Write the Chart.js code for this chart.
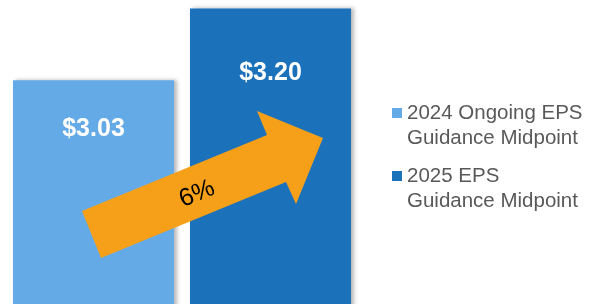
<!DOCTYPE html>
<html>
<head>
<meta charset="utf-8">
<script src="https://cdn.jsdelivr.net/npm/chart.js@4/dist/chart.umd.min.js"></script>
<style>
  html, body { margin: 0; padding: 0; background: #ffffff; }
  #wrap { width: 592px; height: 304px; position: relative; }
</style>
</head>
<body>
<div id="wrap"><canvas id="barChart"></canvas></div>
<script>
var categories = ["2024 Ongoing EPS Guidance Midpoint", "2025 EPS Guidance Midpoint"];
var legendLines = [["2024 Ongoing EPS", "Guidance Midpoint"], ["2025 EPS", "Guidance Midpoint"]];
var epsValues = [3.03, 3.20];
var valueLabels = ["$3.03", "$3.20"];
var growthLabel = "6%";
var barColors = ["#64aae6", "#1c71bb"];

// shadow on the right edge of the bars
var barShadow = {
  id: "barShadow",
  beforeDatasetsDraw: function (chart) {
    var ctx = chart.ctx;
    ctx.save();
    ctx.shadowColor = "rgba(0,0,0,0.28)";
    ctx.shadowOffsetX = 3;
    ctx.shadowOffsetY = 0;
    ctx.shadowBlur = 4;
  },
  afterDatasetsDraw: function (chart) {
    chart.ctx.restore();
  }
};

var overlay = {
  id: "overlay",
  afterDatasetsDraw: function (chart) {
    var ctx = chart.ctx;
    var bars = chart.getDatasetMeta(0).data;
    var bottom = chart.chartArea.bottom;

    // value labels inside the bars
    ctx.save();
    ctx.fillStyle = "#ffffff";
    ctx.font = "bold 25px 'Liberation Sans', Arial, sans-serif";
    ctx.textAlign = "center";
    ctx.textBaseline = "middle";
    bars.forEach(function (bar, i) {
      var h = bottom - bar.y;
      ctx.fillText(valueLabels[i], bar.x, bar.y + h * 0.22);
    });
    ctx.restore();

    // growth arrow
    var L = chart.chartArea.left, T = chart.chartArea.top;
    var pts = [[77, 211], [262, 135], [252, 111], [318, 138], [291, 204], [281, 182], [96, 258]];
    ctx.save();
    ctx.fillStyle = "#f6a01a";
    ctx.beginPath();
    pts.forEach(function (p, i) {
      if (i === 0) ctx.moveTo(L + p[0], T + p[1]);
      else ctx.lineTo(L + p[0], T + p[1]);
    });
    ctx.closePath();
    ctx.fill();

    ctx.translate(L + 192, T + 194);
    ctx.rotate(-22.3 * Math.PI / 180);
    ctx.fillStyle = "#000000";
    ctx.font = "25px 'Liberation Sans', Arial, sans-serif";
    ctx.textAlign = "center";
    ctx.textBaseline = "middle";
    ctx.fillText(growthLabel, 0, 0);
    ctx.restore();

    // legend
    ctx.save();
    ctx.font = "20.5px 'Liberation Sans', Arial, sans-serif";
    ctx.textBaseline = "middle";
    ctx.textAlign = "left";
    var y0 = [113, 176];
    legendLines.forEach(function (lines, i) {
      ctx.fillStyle = barColors[i];
      ctx.fillRect(392, y0[i] - 5, 10, 10);
      ctx.fillStyle = "#595959";
      lines.forEach(function (line, j) {
        ctx.fillText(line, 407, y0[i] + j * 25);
      });
    });
    ctx.restore();
  }
};

document.addEventListener("DOMContentLoaded", function () {
  var ctx = document.getElementById("barChart").getContext("2d");
  var barChart = new Chart(ctx, {
    type: "bar",
    data: {
      labels: categories,
      datasets: [
        {
          label: "EPS",
          data: epsValues,
          backgroundColor: barColors,
          borderWidth: 0,
          categoryPercentage: 1,
          barPercentage: 0.91
        }
      ]
    },
    options: {
      responsive: true,
      maintainAspectRatio: false,
      animation: false,
      layout: { padding: { left: 5, right: 233, top: 0, bottom: 0 } },
      plugins: {
        legend: { display: false },
        tooltip: { enabled: false }
      },
      scales: {
        x: { display: false, grid: { display: false } },
        y: { display: false, min: 2.5, max: 3.22, grid: { display: false } }
      }
    },
    plugins: [barShadow, overlay]
  });
});
</script>
</body>
</html>
